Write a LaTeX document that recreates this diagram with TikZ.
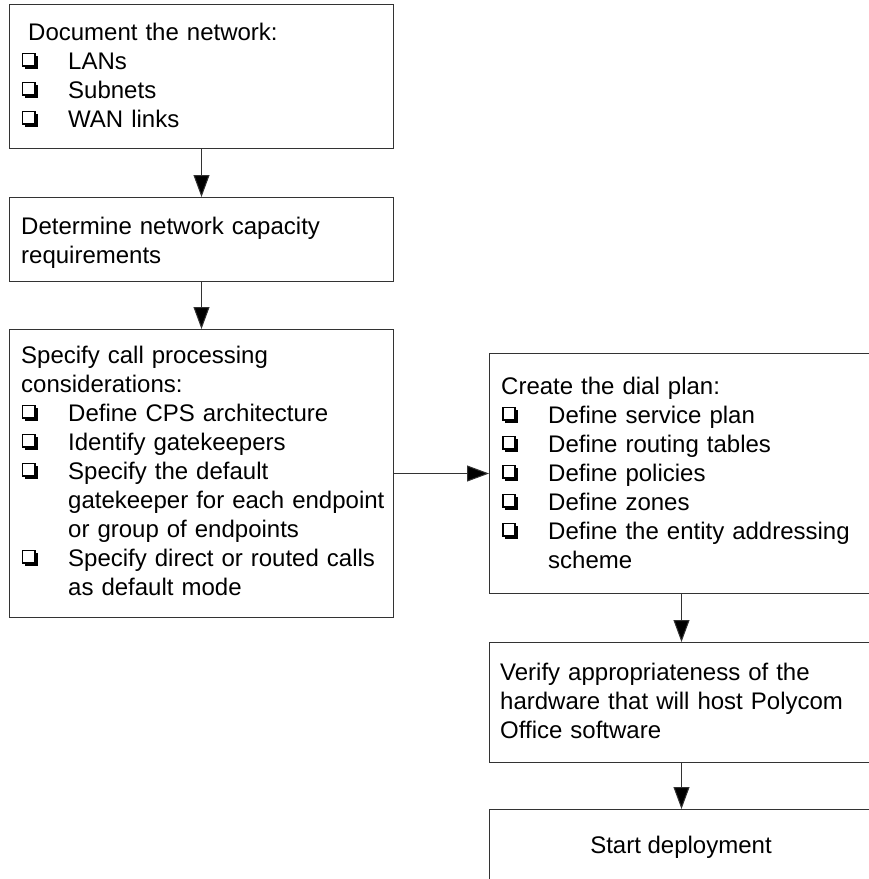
\documentclass[tikz,border=0pt]{standalone}
\usepackage{fontspec}
\setmainfont{Liberation Sans}
\usetikzlibrary{arrows.meta}
\newcommand\chkglyph{{\setlength\unitlength{1pt}\begin{picture}(16,16)%
\put(2.5,0){\rule{13.5pt}{13.5pt}}%
\put(0,2.5){\rule{13.5pt}{13.5pt}}%
\put(1.3,3.8){\textcolor{white}{\rule{10.9pt}{10.9pt}}}%
\end{picture}}}
\newcommand\citem[1]{\par\hangindent=47pt\hangafter=1 \makebox[47pt][l]{\hspace*{1pt}\chkglyph}#1\par}
\begin{document}
\begin{tikzpicture}[x=1pt,y=1pt,
  box/.style={draw=black!80, line width=1pt, anchor=north west, inner sep=0pt, minimum width=384pt},
  txt/.style={anchor=base west, inner sep=0pt, text width=380pt, align=left, font=\fontsize{24}{29}\selectfont},
  ctxt/.style={anchor=base, inner sep=0pt, font=\fontsize{24}{29}\selectfont},
  arr/.style={draw=black!80, line width=1pt, -{Triangle[length=22pt,width=16pt,fill=black]}}]
\useasboundingbox (0,0) rectangle (869,-879);
\clip (0,0) rectangle (869,-879);
% boxes
\node[box, minimum height=144pt] (b1) at (9,-4) {};
\node[box, minimum height=84pt] (b2) at (9,-197) {};
\node[box, minimum height=288pt] (b3) at (9,-329) {};
\node[box, minimum height=240pt] (b4) at (489,-353) {};
\node[box, minimum height=120pt] (b5) at (489,-642) {};
\node[box, minimum height=120pt] (b6) at (489,-809) {};
% texts
\node[txt] (t1) at (21,-40) {\hspace*{7pt}Document the network:\citem{LANs}\citem{Subnets}\citem{WAN links}};
\node[txt] (t2) at (21,-234) {Determine network capacity\newline requirements};
\node[txt] (t3) at (21,-363) {Specify call processing\newline considerations:\citem{Define CPS architecture}\citem{Identify gatekeepers}\citem{Specify the default\newline gatekeeper for each endpoint\newline or group of endpoints}\citem{Specify direct or routed calls\newline as default mode}};
\node[txt] (t4) at (501,-394) {Create the dial plan:\citem{Define service plan}\citem{Define routing tables}\citem{Define policies}\citem{Define zones}\citem{Define the entity addressing\newline scheme}};
\node[txt] (t5) at (500,-680) {Verify appropriateness of the\newline hardware that will host Polycom\newline Office software};
\node[ctxt] (t6) at (681,-853) {Start deployment};
% connectors
\draw[arr] (b1.south) -- (b2.north);
\draw[arr] (b2.south) -- (b3.north);
\draw[arr] (b3.east) -- (b4.west);
\draw[arr] (b4.south) -- (b5.north);
\draw[arr] (b5.south) -- (b6.north);
\end{tikzpicture}
\end{document}
